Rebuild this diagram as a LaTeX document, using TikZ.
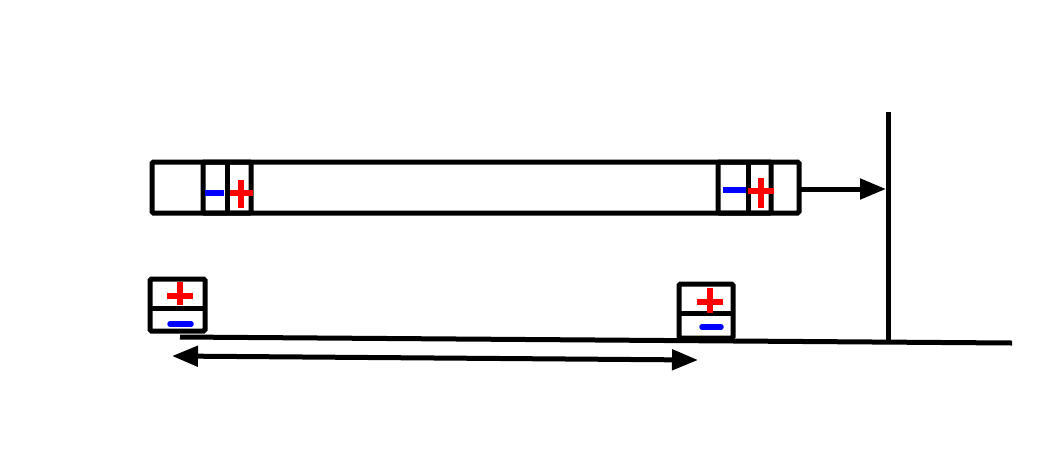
\documentclass[tikz,border=0pt]{standalone}
\usetikzlibrary{arrows.meta}
\definecolor{pr}{RGB}{255,0,0}
\definecolor{pb}{RGB}{0,0,255}
\begin{document}
\begin{tikzpicture}[x=1pt,y=-1pt,
  box/.style={draw=black,line width=5pt,rectangle,inner sep=0pt,outer sep=0pt,rounded corners=1.5pt},
  ln/.style={draw=black,line width=5pt},
  plus/.style={draw=pr,line width=5.5pt},
  minus/.style={draw=pb,line width=5.5pt,line cap=round},
  tip/.style={-{Triangle[length=26pt,width=20pt]}}]
\useasboundingbox (0,0) rectangle (1064,464);
% big bar
\node[box,minimum width=647pt,minimum height=51pt] (bar) at (475.5,187.5) {};
% left inner box in bar
\node[box,minimum width=48pt,minimum height=51pt] (lb) at (227,187.5) {};
\draw[ln] (lb.north) -- (lb.south);
\draw[minus,line cap=butt] (205,193) -- (224,193);
\draw[plus] (230,193) -- (253,193) (241,180) -- (241,208);
% right inner box in bar
\node[box,minimum width=53pt,minimum height=51pt] (rb) at (744.5,187.5) {};
\draw[ln] (748,162) -- (748,213);
\draw[minus,line cap=butt] (723,190) -- (746,190);
\draw[plus] (748,191) -- (774,191) (761,178) -- (761,208);
% wall and floor
\coordinate (wt) at (888,112);
\coordinate (wb) at (888,342);
\draw[ln] (wt) -- (wb);
\coordinate (fl) at (180,337);
\coordinate (fr) at (1012,343);
\draw[ln] (fl) -- (fr);
% arrow to wall
\coordinate (aw) at (886,189);
\draw[ln,tip] (bar.east |- 0,189) -- (aw);
% left small box
\node[box,minimum width=55pt,minimum height=52pt] (ls) at (177.5,305) {};
\draw[ln] (ls.west |- 0,308) -- (ls.east |- 0,308);
\draw[plus] (167,296) -- (193,296) (180,282) -- (180,305);
\draw[minus,line cap=round] (170,324) -- (191,324);
% right small box
\node[box,minimum width=54pt,minimum height=54pt] (rs) at (706,311) {};
\draw[ln] (rs.west |- 0,313) -- (rs.east |- 0,313);
\draw[plus] (697,302) -- (723,302) (710,288) -- (710,313);
\draw[minus,line cap=round] (702,327) -- (721,327);
% double arrow
\coordinate (dl) at (172,356);
\coordinate (dr) at (698,360);
\draw[ln,{Triangle[length=26pt,width=20pt]}-{Triangle[length=26pt,width=20pt]}] (dl) -- (dr);
\end{tikzpicture}
\end{document}
